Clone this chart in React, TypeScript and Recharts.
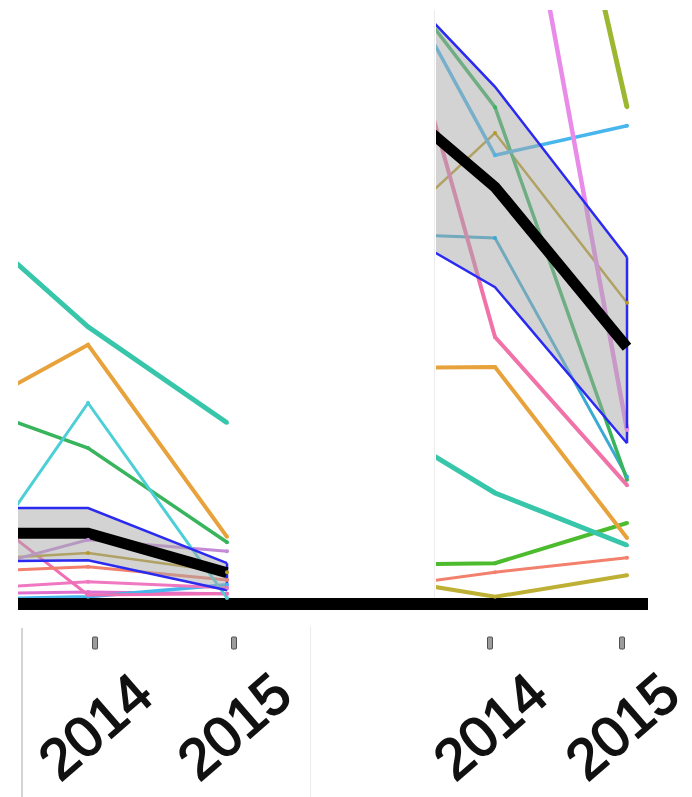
import { Area, ComposedChart, Line, ReferenceLine, XAxis, YAxis } from "recharts"

// x categories (the 2013 column sits outside the cropped view, only its slope shows)
const YEARS = [2013, 2014, 2015]
const TICK_YEARS = [2014, 2015]

// ---- left panel values ----
const leftTeal = [65.8, 45.2, 29.2]
const leftOrange = [29.5, 42.2, 10.2]
const leftCyan = [-0.8, 32.5, 0]
const leftGreen = [33.3, 25, 9.3]
const leftLavender = [3.5, 9.7, 7.8]
const leftOlive = [6.2, 7.5, 4.3]
const leftSalmon = [4.2, 5.2, 3]
const leftPinkA = [18.5, 0.5, 0.7]
const leftPinkB = [1.3, 2.7, 1.7]
const leftSky = [-0.3, 0.2, 2.2]
const leftMagenta = [0.7, 1, 0.7]
const leftBandLow = [6, 6.3, 1.3]
const leftBandHigh = [15, 15, 5.8]
const leftMedian = [10.8, 10.8, 4.2]

// ---- right panel values ----
const rightGreen = [110.5, 81.8, 19.7]
const rightSky = [114.1, 73.8, 78.7]
const rightSteel = [60.8, 60, 20.2]
const rightOlive = [57, 77.5, 49.2]
const rightPink = [121.8, 43.5, 18.8]
const rightViolet = [150, 148, 28]
const rightYellowGreen = [180, 178.7, 81.8]
const rightOrange = [38.3, 38.5, 10]
const rightTeal = [30.9, 17.5, 8.8]
const rightLime = [5.5, 5.8, 12.5]
const rightSalmon = [1.3, 4.3, 6.7]
const rightMustard = [3.8, 0.2, 3.8]
const rightBandLow = [64.5, 51.8, 25.8]
const rightBandHigh = [108.3, 85.2, 56.8]
const rightMedian = [87.2, 68.5, 41.8]

const leftLines: [string, number[]][] = [
  ["magenta", leftMagenta],
  ["sky", leftSky],
  ["pinkB", leftPinkB],
  ["pinkA", leftPinkA],
  ["salmon", leftSalmon],
  ["olive", leftOlive],
  ["lavender", leftLavender],
  ["green", leftGreen],
  ["cyan", leftCyan],
  ["orange", leftOrange],
  ["teal", leftTeal],
]

const rightLines: [string, number[]][] = [
  ["mustard", rightMustard],
  ["salmon", rightSalmon],
  ["lime", rightLime],
  ["teal", rightTeal],
  ["orange", rightOrange],
  ["steel", rightSteel],
  ["olive", rightOlive],
  ["green", rightGreen],
  ["pink", rightPink],
  ["sky", rightSky],
  ["violet", rightViolet],
  ["yellowGreen", rightYellowGreen],
]

// colour, stroke width
const STYLE: Record<string, [string, number]> = {
  teal: ["#38c6aa", 5],
  orange: ["#e8a23c", 4],
  cyan: ["#4ccfd6", 3],
  green: ["#37b45c", 3.5],
  lavender: ["#c48ad8", 3],
  olive: ["#b89a22", 2.5],
  salmon: ["#f2806c", 3],
  pinkA: ["#f06eb4", 3],
  pinkB: ["#f078c0", 3],
  sky: ["#46b6ec", 3.5],
  magenta: ["#e070d0", 3],
  steel: ["#3aaad2", 3],
  violet: ["#e98be9", 4.5],
  yellowGreen: ["#9cb832", 5],
  lime: ["#4cbc2e", 4],
  mustard: ["#bdb034", 4],
  pink: ["#f072a8", 4],
}

const BAND_STROKE = "#2a2af0"
const FONT = "'Liberation Sans', Arial, sans-serif"

function buildRows(lines: [string, number[]][], low: number[], high: number[], median: number[]) {
  return YEARS.map((year, i) => {
    const row: Record<string, any> = { year, band: [low[i], high[i]], median: median[i] }
    lines.forEach(([k, v]) => (row[k] = v[i]))
    return row
  })
}

function YearTick(props: any) {
  const { x, payload, dx } = props
  const cx = x + dx
  const ly = 726
  return (
    <g>
      <rect x={cx - 2.5} y={637} width={5} height={12} rx={1} fill="#9c9c9c" stroke="#505050" strokeWidth={1} />
      <text
        x={cx}
        y={ly}
        textAnchor="middle"
        dominantBaseline="central"
        transform={`rotate(-41 ${cx} ${ly})`}
        fontSize={57}
        fontFamily={FONT}
        fill="#111"
        stroke="#111"
        strokeWidth={1.6}
      >
        {payload.value}
      </text>
    </g>
  )
}

interface PanelProps {
  width: number
  margin: { top: number; left: number; right: number; bottom: number }
  domain: [number, number]
  lines: [string, number[]][]
  low: number[]
  high: number[]
  median: number[]
  tickDx: number
}

function Panel({ width, margin, domain, lines, low, high, median, tickDx }: PanelProps) {
  const rows = buildRows(lines, low, high, median)
  return (
    <ComposedChart width={width} height={797} data={rows} margin={margin}>
      <XAxis
        dataKey="year"
        type="number"
        domain={domain}
        allowDataOverflow
        ticks={TICK_YEARS}
        height={193}
        axisLine={{ stroke: "#000", strokeWidth: 12 }}
        tickLine={false}
        tick={(p: any) => <YearTick {...p} dx={tickDx} />}
        interval={0}
      />
      <YAxis hide type="number" domain={[-1, 98]} allowDataOverflow />
      {lines.map(([k]) => (
        <Line
          key={k}
          dataKey={k}
          type="linear"
          stroke={STYLE[k][0]}
          strokeWidth={STYLE[k][1]}
          dot={{ r: 2, fill: STYLE[k][0], stroke: "none" }}
          isAnimationActive={false}
          zIndex={400}
        />
      ))}
      <Area
        dataKey="band"
        type="linear"
        fill="#a8a8a8"
        fillOpacity={0.5}
        stroke={BAND_STROKE}
        strokeWidth={2.5}
        isAnimationActive={false}
        zIndex={450}
      />
      <ReferenceLine
        segment={[
          { x: 2015, y: low[2] },
          { x: 2015, y: high[2] },
        ]}
        stroke={BAND_STROKE}
        strokeWidth={2.5}
        zIndex={455}
      />
      <Line
        dataKey="median"
        type="linear"
        stroke="#000"
        strokeWidth={11}
        dot={false}
        isAnimationActive={false}
        zIndex={460}
      />
    </ComposedChart>
  )
}

export default function App() {
  return (
    <div style={{ position: "absolute", left: 0, top: 0, width: 692, height: 797, background: "#fff", overflow: "hidden" }}>
      {/* faint panel borders */}
      <div style={{ position: "absolute", left: 21, top: 628, width: 2, height: 169, background: "#d4d4d4" }} />
      <div style={{ position: "absolute", left: 310, top: 626, width: 1, height: 171, background: "#ececec" }} />
      <div style={{ position: "absolute", left: 434, top: 10, width: 1, height: 588, background: "#ececec" }} />
      <div style={{ position: "absolute", left: 0, top: 0 }}>
        <Panel
          width={436}
          margin={{ top: 10, left: 18, right: 0, bottom: 0 }}
          domain={[2013.496, 2016.504]}
          lines={leftLines}
          low={leftBandLow}
          high={leftBandHigh}
          median={leftMedian}
          tickDx={7}
        />
      </div>
      {/* right panel svg starts further left so its tick labels are not cut */}
      <div style={{ position: "absolute", left: 330, top: 0 }}>
        <Panel
          width={362}
          margin={{ top: 10, left: 106, right: 44, bottom: 0 }}
          domain={[2013.553, 2015.159]}
          lines={rightLines}
          low={rightBandLow}
          high={rightBandHigh}
          median={rightMedian}
          tickDx={-5}
        />
      </div>
    </div>
  )
}
